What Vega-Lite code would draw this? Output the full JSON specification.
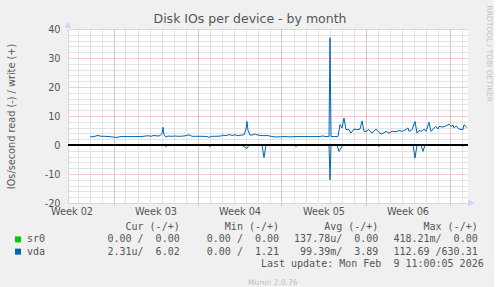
{
  "$schema": "https://vega.github.io/schema/vega-lite/v6.json",
  "background": "#f0f0f0",
  "padding": {"left": 6, "top": 5, "right": 0, "bottom": 0},
  "autosize": {"type": "pad"},
  "title": {
    "text": "RRDTOOL / TOBI OETIKER",
    "orient": "right",
    "anchor": "start",
    "font": "DejaVu Sans",
    "fontSize": 7.5,
    "fontWeight": "normal",
    "color": "#c4c4c4",
    "offset": 2,
    "dx": -8
  },
  "config": {
    "view": {"stroke": null},
    "concat": {"spacing": 5},
    "font": "DejaVu Sans"
  },
  "datasets": {
    "io": [
      {"t": "2026-01-09T01:00Z", "dev": "sr0", "dir": "write", "v": 0},
      {"t": "2026-02-09T11:00Z", "dev": "sr0", "dir": "write", "v": 0},
      {"t": "2026-01-09T01:00Z", "dev": "sr0", "dir": "read", "v": 0},
      {"t": "2026-02-09T11:00Z", "dev": "sr0", "dir": "read", "v": 0},

      {"t": "2026-01-09T01:00Z", "dev": "vda", "dir": "read", "v": 0},
      {"t": "2026-01-15T05:00Z", "dev": "vda", "dir": "read", "v": 0},
      {"t": "2026-01-15T09:00Z", "dev": "vda", "dir": "read", "v": -0.5},
      {"t": "2026-01-15T13:00Z", "dev": "vda", "dir": "read", "v": 0},
      {"t": "2026-01-18T21:00Z", "dev": "vda", "dir": "read", "v": 0},
      {"t": "2026-01-19T01:00Z", "dev": "vda", "dir": "read", "v": -0.5},
      {"t": "2026-01-19T05:00Z", "dev": "vda", "dir": "read", "v": 0},
      {"t": "2026-01-21T15:00Z", "dev": "vda", "dir": "read", "v": 0},
      {"t": "2026-01-21T19:00Z", "dev": "vda", "dir": "read", "v": -0.3},
      {"t": "2026-01-21T23:00Z", "dev": "vda", "dir": "read", "v": -0.8},
      {"t": "2026-01-22T03:00Z", "dev": "vda", "dir": "read", "v": -1.2},
      {"t": "2026-01-22T07:00Z", "dev": "vda", "dir": "read", "v": 0},
      {"t": "2026-01-23T09:00Z", "dev": "vda", "dir": "read", "v": 0},
      {"t": "2026-01-23T13:00Z", "dev": "vda", "dir": "read", "v": -4.3},
      {"t": "2026-01-23T17:00Z", "dev": "vda", "dir": "read", "v": 0},
      {"t": "2026-01-26T01:00Z", "dev": "vda", "dir": "read", "v": 0},
      {"t": "2026-01-26T05:00Z", "dev": "vda", "dir": "read", "v": -0.5},
      {"t": "2026-01-26T09:00Z", "dev": "vda", "dir": "read", "v": 0},
      {"t": "2026-01-28T23:00Z", "dev": "vda", "dir": "read", "v": 0},
      {"t": "2026-01-29T01:00Z", "dev": "vda", "dir": "read", "v": -12.0},
      {"t": "2026-01-29T03:00Z", "dev": "vda", "dir": "read", "v": 0},
      {"t": "2026-01-29T15:00Z", "dev": "vda", "dir": "read", "v": 0},
      {"t": "2026-01-29T19:00Z", "dev": "vda", "dir": "read", "v": -2.2},
      {"t": "2026-01-29T23:00Z", "dev": "vda", "dir": "read", "v": -1.0},
      {"t": "2026-01-30T03:00Z", "dev": "vda", "dir": "read", "v": 0},
      {"t": "2026-02-01T23:00Z", "dev": "vda", "dir": "read", "v": 0},
      {"t": "2026-02-02T03:00Z", "dev": "vda", "dir": "read", "v": -0.5},
      {"t": "2026-02-02T07:00Z", "dev": "vda", "dir": "read", "v": 0},
      {"t": "2026-02-04T23:00Z", "dev": "vda", "dir": "read", "v": 0},
      {"t": "2026-02-05T03:00Z", "dev": "vda", "dir": "read", "v": -4.5},
      {"t": "2026-02-05T07:00Z", "dev": "vda", "dir": "read", "v": 0},
      {"t": "2026-02-05T15:00Z", "dev": "vda", "dir": "read", "v": 0},
      {"t": "2026-02-05T19:00Z", "dev": "vda", "dir": "read", "v": -2.2},
      {"t": "2026-02-05T23:00Z", "dev": "vda", "dir": "read", "v": 0},
      {"t": "2026-02-08T23:00Z", "dev": "vda", "dir": "read", "v": 0},
      {"t": "2026-02-09T03:00Z", "dev": "vda", "dir": "read", "v": -0.4},
      {"t": "2026-02-09T07:00Z", "dev": "vda", "dir": "read", "v": 0},
      {"t": "2026-02-09T11:00Z", "dev": "vda", "dir": "read", "v": 0},

      {"t": "2026-01-09T01:00Z", "dev": "vda", "dir": "write", "v": 2.8},
      {"t": "2026-01-09T09:00Z", "dev": "vda", "dir": "write", "v": 2.9},
      {"t": "2026-01-09T17:00Z", "dev": "vda", "dir": "write", "v": 3.3},
      {"t": "2026-01-09T23:00Z", "dev": "vda", "dir": "write", "v": 3.0},
      {"t": "2026-01-10T07:00Z", "dev": "vda", "dir": "write", "v": 3.0},
      {"t": "2026-01-10T15:00Z", "dev": "vda", "dir": "write", "v": 2.9},
      {"t": "2026-01-11T01:00Z", "dev": "vda", "dir": "write", "v": 2.7},
      {"t": "2026-01-11T07:00Z", "dev": "vda", "dir": "write", "v": 2.6},
      {"t": "2026-01-11T13:00Z", "dev": "vda", "dir": "write", "v": 2.9},
      {"t": "2026-01-12T01:00Z", "dev": "vda", "dir": "write", "v": 2.9},
      {"t": "2026-01-12T15:00Z", "dev": "vda", "dir": "write", "v": 2.9},
      {"t": "2026-01-13T07:00Z", "dev": "vda", "dir": "write", "v": 2.9},
      {"t": "2026-01-13T21:00Z", "dev": "vda", "dir": "write", "v": 3.2},
      {"t": "2026-01-14T03:00Z", "dev": "vda", "dir": "write", "v": 3.0},
      {"t": "2026-01-14T09:00Z", "dev": "vda", "dir": "write", "v": 3.3},
      {"t": "2026-01-14T15:00Z", "dev": "vda", "dir": "write", "v": 3.1},
      {"t": "2026-01-14T21:00Z", "dev": "vda", "dir": "write", "v": 3.2},
      {"t": "2026-01-15T01:00Z", "dev": "vda", "dir": "write", "v": 4.0},
      {"t": "2026-01-15T03:00Z", "dev": "vda", "dir": "write", "v": 6.1},
      {"t": "2026-01-15T05:00Z", "dev": "vda", "dir": "write", "v": 3.5},
      {"t": "2026-01-15T09:00Z", "dev": "vda", "dir": "write", "v": 2.7},
      {"t": "2026-01-15T13:00Z", "dev": "vda", "dir": "write", "v": 3.1},
      {"t": "2026-01-15T19:00Z", "dev": "vda", "dir": "write", "v": 3.0},
      {"t": "2026-01-16T03:00Z", "dev": "vda", "dir": "write", "v": 3.1},
      {"t": "2026-01-16T11:00Z", "dev": "vda", "dir": "write", "v": 3.0},
      {"t": "2026-01-16T21:00Z", "dev": "vda", "dir": "write", "v": 3.1},
      {"t": "2026-01-17T07:00Z", "dev": "vda", "dir": "write", "v": 3.5},
      {"t": "2026-01-17T13:00Z", "dev": "vda", "dir": "write", "v": 3.0},
      {"t": "2026-01-17T23:00Z", "dev": "vda", "dir": "write", "v": 3.0},
      {"t": "2026-01-18T11:00Z", "dev": "vda", "dir": "write", "v": 3.0},
      {"t": "2026-01-18T19:00Z", "dev": "vda", "dir": "write", "v": 2.9},
      {"t": "2026-01-18T23:00Z", "dev": "vda", "dir": "write", "v": 2.6},
      {"t": "2026-01-19T03:00Z", "dev": "vda", "dir": "write", "v": 3.0},
      {"t": "2026-01-19T13:00Z", "dev": "vda", "dir": "write", "v": 3.0},
      {"t": "2026-01-19T23:00Z", "dev": "vda", "dir": "write", "v": 3.1},
      {"t": "2026-01-20T03:00Z", "dev": "vda", "dir": "write", "v": 3.4},
      {"t": "2026-01-20T09:00Z", "dev": "vda", "dir": "write", "v": 3.2},
      {"t": "2026-01-20T15:00Z", "dev": "vda", "dir": "write", "v": 3.6},
      {"t": "2026-01-20T21:00Z", "dev": "vda", "dir": "write", "v": 3.3},
      {"t": "2026-01-21T03:00Z", "dev": "vda", "dir": "write", "v": 3.5},
      {"t": "2026-01-21T09:00Z", "dev": "vda", "dir": "write", "v": 3.2},
      {"t": "2026-01-21T15:00Z", "dev": "vda", "dir": "write", "v": 3.4},
      {"t": "2026-01-21T21:00Z", "dev": "vda", "dir": "write", "v": 3.5},
      {"t": "2026-01-22T01:00Z", "dev": "vda", "dir": "write", "v": 5.5},
      {"t": "2026-01-22T03:00Z", "dev": "vda", "dir": "write", "v": 8.1},
      {"t": "2026-01-22T05:00Z", "dev": "vda", "dir": "write", "v": 5.0},
      {"t": "2026-01-22T09:00Z", "dev": "vda", "dir": "write", "v": 3.4},
      {"t": "2026-01-22T15:00Z", "dev": "vda", "dir": "write", "v": 3.5},
      {"t": "2026-01-22T19:00Z", "dev": "vda", "dir": "write", "v": 3.8},
      {"t": "2026-01-23T01:00Z", "dev": "vda", "dir": "write", "v": 3.4},
      {"t": "2026-01-23T07:00Z", "dev": "vda", "dir": "write", "v": 3.3},
      {"t": "2026-01-23T13:00Z", "dev": "vda", "dir": "write", "v": 3.2},
      {"t": "2026-01-23T19:00Z", "dev": "vda", "dir": "write", "v": 3.3},
      {"t": "2026-01-24T03:00Z", "dev": "vda", "dir": "write", "v": 3.0},
      {"t": "2026-01-24T11:00Z", "dev": "vda", "dir": "write", "v": 2.8},
      {"t": "2026-01-24T19:00Z", "dev": "vda", "dir": "write", "v": 2.8},
      {"t": "2026-01-25T05:00Z", "dev": "vda", "dir": "write", "v": 2.9},
      {"t": "2026-01-25T19:00Z", "dev": "vda", "dir": "write", "v": 2.8},
      {"t": "2026-01-26T03:00Z", "dev": "vda", "dir": "write", "v": 2.9},
      {"t": "2026-01-26T15:00Z", "dev": "vda", "dir": "write", "v": 2.9},
      {"t": "2026-01-27T03:00Z", "dev": "vda", "dir": "write", "v": 2.9},
      {"t": "2026-01-27T15:00Z", "dev": "vda", "dir": "write", "v": 2.9},
      {"t": "2026-01-28T03:00Z", "dev": "vda", "dir": "write", "v": 2.9},
      {"t": "2026-01-28T11:00Z", "dev": "vda", "dir": "write", "v": 3.1},
      {"t": "2026-01-28T17:00Z", "dev": "vda", "dir": "write", "v": 2.9},
      {"t": "2026-01-28T23:00Z", "dev": "vda", "dir": "write", "v": 2.9},
      {"t": "2026-01-29T01:00Z", "dev": "vda", "dir": "write", "v": 37.0},
      {"t": "2026-01-29T03:00Z", "dev": "vda", "dir": "write", "v": 2.9},
      {"t": "2026-01-29T11:00Z", "dev": "vda", "dir": "write", "v": 2.9},
      {"t": "2026-01-29T17:00Z", "dev": "vda", "dir": "write", "v": 2.9},
      {"t": "2026-01-29T21:00Z", "dev": "vda", "dir": "write", "v": 7.0},
      {"t": "2026-01-30T01:00Z", "dev": "vda", "dir": "write", "v": 5.9},
      {"t": "2026-01-30T05:00Z", "dev": "vda", "dir": "write", "v": 9.3},
      {"t": "2026-01-30T09:00Z", "dev": "vda", "dir": "write", "v": 5.3},
      {"t": "2026-01-30T15:00Z", "dev": "vda", "dir": "write", "v": 5.3},
      {"t": "2026-01-30T19:00Z", "dev": "vda", "dir": "write", "v": 4.1},
      {"t": "2026-01-31T01:00Z", "dev": "vda", "dir": "write", "v": 5.5},
      {"t": "2026-01-31T07:00Z", "dev": "vda", "dir": "write", "v": 5.3},
      {"t": "2026-01-31T13:00Z", "dev": "vda", "dir": "write", "v": 5.5},
      {"t": "2026-01-31T17:00Z", "dev": "vda", "dir": "write", "v": 8.3},
      {"t": "2026-01-31T21:00Z", "dev": "vda", "dir": "write", "v": 4.7},
      {"t": "2026-02-01T01:00Z", "dev": "vda", "dir": "write", "v": 4.7},
      {"t": "2026-02-01T07:00Z", "dev": "vda", "dir": "write", "v": 5.3},
      {"t": "2026-02-01T13:00Z", "dev": "vda", "dir": "write", "v": 4.1},
      {"t": "2026-02-01T21:00Z", "dev": "vda", "dir": "write", "v": 5.5},
      {"t": "2026-02-02T03:00Z", "dev": "vda", "dir": "write", "v": 4.3},
      {"t": "2026-02-02T09:00Z", "dev": "vda", "dir": "write", "v": 3.8},
      {"t": "2026-02-02T17:00Z", "dev": "vda", "dir": "write", "v": 4.7},
      {"t": "2026-02-02T23:00Z", "dev": "vda", "dir": "write", "v": 4.1},
      {"t": "2026-02-03T05:00Z", "dev": "vda", "dir": "write", "v": 4.7},
      {"t": "2026-02-03T13:00Z", "dev": "vda", "dir": "write", "v": 4.6},
      {"t": "2026-02-03T19:00Z", "dev": "vda", "dir": "write", "v": 5.0},
      {"t": "2026-02-04T01:00Z", "dev": "vda", "dir": "write", "v": 4.7},
      {"t": "2026-02-04T09:00Z", "dev": "vda", "dir": "write", "v": 5.3},
      {"t": "2026-02-04T13:00Z", "dev": "vda", "dir": "write", "v": 5.9},
      {"t": "2026-02-04T15:00Z", "dev": "vda", "dir": "write", "v": 4.7},
      {"t": "2026-02-04T21:00Z", "dev": "vda", "dir": "write", "v": 5.3},
      {"t": "2026-02-05T03:00Z", "dev": "vda", "dir": "write", "v": 8.1},
      {"t": "2026-02-05T07:00Z", "dev": "vda", "dir": "write", "v": 4.1},
      {"t": "2026-02-05T11:00Z", "dev": "vda", "dir": "write", "v": 5.0},
      {"t": "2026-02-05T17:00Z", "dev": "vda", "dir": "write", "v": 4.7},
      {"t": "2026-02-05T21:00Z", "dev": "vda", "dir": "write", "v": 5.5},
      {"t": "2026-02-06T01:00Z", "dev": "vda", "dir": "write", "v": 4.7},
      {"t": "2026-02-06T07:00Z", "dev": "vda", "dir": "write", "v": 7.8},
      {"t": "2026-02-06T11:00Z", "dev": "vda", "dir": "write", "v": 4.7},
      {"t": "2026-02-06T15:00Z", "dev": "vda", "dir": "write", "v": 5.5},
      {"t": "2026-02-06T21:00Z", "dev": "vda", "dir": "write", "v": 6.4},
      {"t": "2026-02-07T01:00Z", "dev": "vda", "dir": "write", "v": 5.5},
      {"t": "2026-02-07T03:00Z", "dev": "vda", "dir": "write", "v": 6.4},
      {"t": "2026-02-07T11:00Z", "dev": "vda", "dir": "write", "v": 6.2},
      {"t": "2026-02-07T17:00Z", "dev": "vda", "dir": "write", "v": 6.6},
      {"t": "2026-02-07T23:00Z", "dev": "vda", "dir": "write", "v": 7.2},
      {"t": "2026-02-08T03:00Z", "dev": "vda", "dir": "write", "v": 6.4},
      {"t": "2026-02-08T07:00Z", "dev": "vda", "dir": "write", "v": 6.9},
      {"t": "2026-02-08T09:00Z", "dev": "vda", "dir": "write", "v": 5.9},
      {"t": "2026-02-08T13:00Z", "dev": "vda", "dir": "write", "v": 6.6},
      {"t": "2026-02-08T19:00Z", "dev": "vda", "dir": "write", "v": 5.5},
      {"t": "2026-02-09T03:00Z", "dev": "vda", "dir": "write", "v": 5.3},
      {"t": "2026-02-09T05:00Z", "dev": "vda", "dir": "write", "v": 7.0},
      {"t": "2026-02-09T09:00Z", "dev": "vda", "dir": "write", "v": 6.4},
      {"t": "2026-02-09T11:00Z", "dev": "vda", "dir": "write", "v": 6.02}
    ],
    "stats": [
      {"row": "head", "col": "cur", "text": "Cur (-/+)\u00a0\u00a0"},
      {"row": "head", "col": "min", "text": "Min (-/+)\u00a0"},
      {"row": "head", "col": "avg", "text": "Avg (-/+)\u00a0"},
      {"row": "head", "col": "max", "text": "Max (-/+)"},
      {"row": "sr0", "col": "name", "text": "sr0"},
      {"row": "sr0", "col": "cur", "text": "0.00 /\u00a0\u00a00.00"},
      {"row": "sr0", "col": "min", "text": "0.00 /\u00a0\u00a00.00"},
      {"row": "sr0", "col": "avg", "text": "137.78u/\u00a0\u00a00.00"},
      {"row": "sr0", "col": "max", "text": "418.21m/\u00a0\u00a00.00"},
      {"row": "vda", "col": "name", "text": "vda"},
      {"row": "vda", "col": "cur", "text": "2.31u/\u00a0\u00a06.02"},
      {"row": "vda", "col": "min", "text": "0.00 /\u00a0\u00a01.21"},
      {"row": "vda", "col": "avg", "text": "99.39m/\u00a0\u00a03.89"},
      {"row": "vda", "col": "max", "text": "112.69 /630.31"},
      {"row": "upd", "col": "max", "text": "Last update: Mon Feb\u00a0\u00a09 11:00:05 2026"}
    ]
  },
  "vconcat": [
    {
      "width": 400,
      "height": 174,
      "view": {"fill": "#ffffff", "stroke": null},
      "title": {
        "text": "Disk IOs per device - by month",
        "font": "DejaVu Sans",
        "fontSize": 12.5,
        "fontWeight": "normal",
        "color": "#555555",
        "anchor": "middle",
        "frame": "group",
        "dx": -18,
        "baseline": "alphabetic",
        "offset": -13.3
      },
      "data": {"name": "io"},
      "resolve": {"axis": {"x": "independent", "y": "independent"}},
      "layer": [
        {
          "mark": {"type": "line", "strokeWidth": 1},
          "encoding": {
            "x": {
              "field": "t", "type": "temporal",
              "scale": {"type": "utc", "domain": [{"year": 2026, "month": 1, "date": 7, "hours": 5, "utc": true}, {"year": 2026, "month": 2, "date": 9, "hours": 13, "utc": true}]},
              "axis": {"orient": "bottom", "title": null, "labels": false, "ticks": false, "domain": false, "grid": true, "gridColor": "#c8c8c8", "gridDash": [1, 1], "gridWidth": 1, "tickCount": {"interval": "day", "step": 1}}
            },
            "y": {
              "field": "v", "type": "quantitative",
              "scale": {"domain": [-20, 40], "nice": false, "zero": false},
              "axis": {"orient": "left", "title": null, "labels": false, "ticks": false, "domain": false, "grid": true, "gridColor": "#c8c8c8", "gridDash": [1, 1], "gridWidth": 1,
                "values": [-18, -16, -14, -12, -8, -6, -4, -2, 2, 4, 6, 8, 12, 14, 16, 18, 22, 24, 26, 28, 32, 34, 36, 38]}
            },
            "color": {"field": "dev", "type": "nominal", "scale": {"domain": ["sr0", "vda"], "range": ["#00cc00", "#0066b3"]}, "legend": null},
            "detail": {"field": "dir"}
          }
        },
        {
          "mark": {"type": "rule", "color": "#000000", "strokeWidth": 1},
          "encoding": {
            "y": {
              "datum": 0, "type": "quantitative",
              "scale": {"domain": [-20, 40], "nice": false, "zero": false},
              "axis": {
                "orient": "left",
                "title": "IOs/second read (-) / write (+)",
                "titleFont": "DejaVu Sans", "titleFontSize": 9.72, "titleFontWeight": "normal", "titleColor": "#555555", "titlePadding": 28,
                "values": [-20, -10, 0, 10, 20, 30, 40],
                "labelExpr": "'' + datum.value",
                "labelFont": "DejaVu Sans", "labelFontSize": 9.72, "labelColor": "#555555", "labelPadding": 8,
                "ticks": false,
                "grid": true, "gridColor": "#e7a0a0", "gridDash": [1, 1], "gridWidth": 1,
                "domain": true, "domainColor": "#cfd6f8", "domainWidth": 1
              }
            }
          }
        },
        {
          "mark": {"type": "point", "shape": "triangle-up", "filled": true, "color": "#cfd6f8", "opacity": 1, "size": 30, "yOffset": -4},
          "encoding": {
            "x": {
              "datum": {"year": 2026, "month": 1, "date": 7, "hours": 5, "utc": true}, "type": "temporal",
              "scale": {"type": "utc", "domain": [{"year": 2026, "month": 1, "date": 7, "hours": 5, "utc": true}, {"year": 2026, "month": 2, "date": 9, "hours": 13, "utc": true}]},
              "axis": {
                "orient": "bottom", "title": null, "grid": false, "ticks": false, "domain": false,
                "values": [
                  {"year": 2026, "month": 1, "date": 7, "hours": 12, "utc": true},
                  {"year": 2026, "month": 1, "date": 14, "hours": 12, "utc": true},
                  {"year": 2026, "month": 1, "date": 21, "hours": 12, "utc": true},
                  {"year": 2026, "month": 1, "date": 28, "hours": 12, "utc": true},
                  {"year": 2026, "month": 2, "date": 4, "hours": 12, "utc": true}
                ],
                "labelExpr": "'Week ' + utcFormat(datum.value, '%V')",
                "labelFlush": false, "labelOverlap": false,
                "labelFont": "DejaVu Sans", "labelFontSize": 9.72, "labelColor": "#555555", "labelPadding": 3
              }
            },
            "y": {"datum": 40, "type": "quantitative", "scale": {"domain": [-20, 40], "nice": false, "zero": false}, "axis": null}
          }
        },
        {
          "mark": {"type": "point", "shape": "triangle-right", "filled": true, "color": "#cfd6f8", "opacity": 1, "size": 30, "xOffset": 3},
          "encoding": {
            "x": {
              "datum": {"year": 2026, "month": 2, "date": 9, "hours": 13, "utc": true}, "type": "temporal",
              "scale": {"type": "utc", "domain": [{"year": 2026, "month": 1, "date": 7, "hours": 5, "utc": true}, {"year": 2026, "month": 2, "date": 9, "hours": 13, "utc": true}]},
              "axis": {
                "orient": "bottom", "title": null, "labels": false,
                "tickCount": {"interval": "week", "step": 1},
                "grid": true, "gridColor": "#e7a0a0", "gridDash": [1, 1], "gridWidth": 1,
                "ticks": true, "tickColor": "#e7a0a0", "tickSize": 2, "tickWidth": 1,
                "domain": true, "domainColor": "#cfd6f8", "domainWidth": 1
              }
            },
            "y": {"datum": -20, "type": "quantitative", "scale": {"domain": [-20, 40], "nice": false, "zero": false}, "axis": null}
          }
        }
      ]
    },
    {
      "width": 409.7,
      "height": 49,
      "view": {"stroke": null},
      "title": {
        "text": "Munin 2.0.76",
        "orient": "bottom",
        "anchor": "middle",
        "font": "DejaVu Sans",
        "fontSize": 7.6,
        "fontWeight": "normal",
        "color": "#bdbdbd",
        "offset": 8.5
      },
      "data": {"name": "stats"},
      "layer": [
        {
          "transform": [{"filter": "datum.col != 'name' && datum.row != 'upd'"}],
          "mark": {"type": "text", "align": "right", "baseline": "middle", "font": "DejaVu Sans Mono", "fontSize": 10, "color": "#555555"},
          "encoding": {
            "x": {"field": "col", "type": "nominal", "scale": {"type": "point", "domain": ["name", "cur", "min", "avg", "max"], "padding": 0.0623, "align": 1}, "axis": null},
            "y": {"field": "row", "type": "nominal", "scale": {"type": "point", "domain": ["head", "sr0", "vda", "upd"], "padding": 0.5}, "axis": null},
            "text": {"field": "text"}
          }
        },
        {
          "transform": [{"filter": "datum.col == 'name'"}],
          "mark": {"type": "text", "align": "left", "baseline": "middle", "font": "DejaVu Sans Mono", "fontSize": 10, "color": "#555555", "dx": -53.4},
          "encoding": {
            "x": {"field": "col", "type": "nominal", "scale": {"type": "point", "domain": ["name", "cur", "min", "avg", "max"], "padding": 0.0623, "align": 1}, "axis": null},
            "y": {"field": "row", "type": "nominal", "scale": {"type": "point", "domain": ["head", "sr0", "vda", "upd"], "padding": 0.5}, "axis": null},
            "text": {"field": "text"}
          }
        },
        {
          "transform": [{"filter": "datum.col == 'name'"}],
          "mark": {"type": "point", "shape": "square", "filled": true, "opacity": 1, "size": 36, "xOffset": -62.4},
          "encoding": {
            "x": {"field": "col", "type": "nominal", "scale": {"type": "point", "domain": ["name", "cur", "min", "avg", "max"], "padding": 0.0623, "align": 1}, "axis": null},
            "y": {"field": "row", "type": "nominal", "scale": {"type": "point", "domain": ["head", "sr0", "vda", "upd"], "padding": 0.5}, "axis": null},
            "color": {"field": "row", "type": "nominal", "scale": {"domain": ["sr0", "vda"], "range": ["#00cc00", "#0066b3"]}, "legend": null}
          }
        },
        {
          "transform": [{"filter": "datum.row == 'upd'"}],
          "mark": {"type": "text", "align": "right", "baseline": "middle", "font": "DejaVu Sans Mono", "fontSize": 10, "color": "#555555", "dx": 6},
          "encoding": {
            "x": {"field": "col", "type": "nominal", "scale": {"type": "point", "domain": ["name", "cur", "min", "avg", "max"], "padding": 0.0623, "align": 1}, "axis": null},
            "y": {"field": "row", "type": "nominal", "scale": {"type": "point", "domain": ["head", "sr0", "vda", "upd"], "padding": 0.5}, "axis": null},
            "text": {"field": "text"}
          }
        }
      ]
    }
  ]
}
